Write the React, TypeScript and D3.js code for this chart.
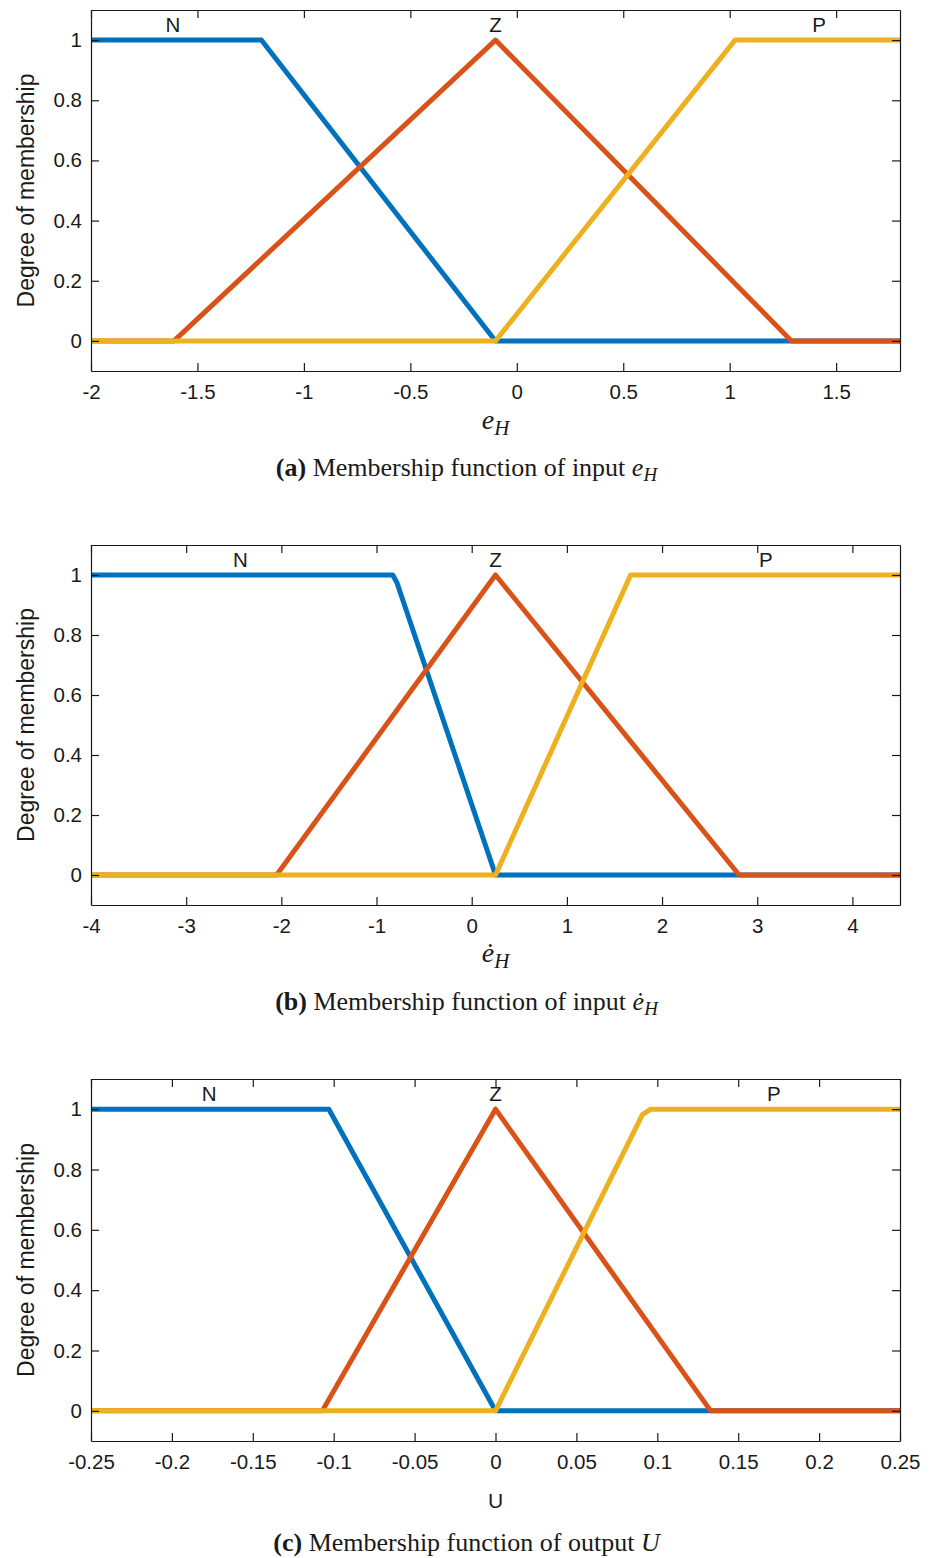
import { useRef, useEffect } from 'react';
import * as d3 from 'd3';

const WIDTH = 936;
const HEIGHT = 1558;
const PLOT_LEFT = 91;
const PLOT_RIGHT = 900;

const COLORS = { N: '#0072BD', Z: '#D95319', P: '#EDB120' };
const Y_TICKS = [0, 0.2, 0.4, 0.6, 0.8, 1];
const MF_NAMES = ['N', 'Z', 'P'];

// (a) input e_H
const X_DOMAIN_A = [-2, 1.8];
const X_TICKS_A = [-2, -1.5, -1, -0.5, 0, 0.5, 1, 1.5];
const MF_A_N = [[-2, 1], [-1.2, 1], [-0.1, 0], [1.8, 0]];
const MF_A_Z = [[-2, 0], [-1.61, 0], [-0.1, 1], [1.29, 0], [1.8, 0]];
const MF_A_P = [[-2, 0], [-0.1, 0], [1.025, 1], [1.8, 1]];
const LABEL_X_A = [-1.615, -0.1, 1.42];

// (b) input e_H dot
const X_DOMAIN_B = [-4, 4.5];
const X_TICKS_B = [-4, -3, -2, -1, 0, 1, 2, 3, 4];
const MF_B_N = [[-4, 1], [-0.83, 1], [-0.785, 0.974], [0.25, 0], [4.5, 0]];
const MF_B_Z = [[-4, 0], [-2.05, 0], [0.25, 1], [2.81, 0], [4.5, 0]];
const MF_B_P = [[-4, 0], [0.25, 0], [1.67, 1], [4.5, 1]];
const LABEL_X_B = [-2.43, 0.25, 3.09];

// (c) output U
const X_DOMAIN_C = [-0.25, 0.25];
const X_TICKS_C = [-0.25, -0.2, -0.15, -0.1, -0.05, 0, 0.05, 0.1, 0.15, 0.2, 0.25];
const MF_C_N = [[-0.25, 1], [-0.103, 1], [0, 0], [0.25, 0]];
const MF_C_Z = [[-0.25, 0], [-0.107, 0], [0, 1], [0.133, 0], [0.25, 0]];
const MF_C_P = [[-0.25, 0], [0, 0], [0.0908, 0.982], [0.096, 1], [0.25, 1]];
const LABEL_X_C = [-0.177, 0, 0.172];

const PANELS = [
  { id: 'a', top: 10, height: 361, domain: X_DOMAIN_A, ticks: X_TICKS_A, mfs: [MF_A_N, MF_A_Z, MF_A_P], labelX: LABEL_X_A, xlabel: 'eH', caption: 'input', capY: 476, xlabY: 429 },
  { id: 'b', top: 545, height: 360, domain: X_DOMAIN_B, ticks: X_TICKS_B, mfs: [MF_B_N, MF_B_Z, MF_B_P], labelX: LABEL_X_B, xlabel: 'edot', caption: 'input', capY: 1010, xlabY: 962 },
  { id: 'c', top: 1079, height: 362, domain: X_DOMAIN_C, ticks: X_TICKS_C, mfs: [MF_C_N, MF_C_Z, MF_C_P], labelX: LABEL_X_C, xlabel: 'U', caption: 'output', capY: 1551, xlabY: 1508 },
];

const SANS = '"Liberation Sans", Arial, sans-serif';
const SERIF = '"Liberation Serif", "Times New Roman", serif';
const INK = '#1a1a1a';
const fmt = (d: number) => String(Math.round(d * 100) / 100);

export default function App() {
  const svgRef = useRef<SVGSVGElement>(null);

  useEffect(() => {
    const svg = d3.select(svgRef.current);
    svg.selectAll('*').remove();

    PANELS.forEach(p => {
      const innerW = PLOT_RIGHT - PLOT_LEFT;
      const innerH = p.height;
      const x = d3.scaleLinear().domain(p.domain).range([0, innerW]);
      const y = d3.scaleLinear().domain([-0.1, 1.1]).range([innerH, 0]);
      const g = svg.append('g').attr('transform', `translate(${PLOT_LEFT},${p.top})`);

      // membership lines
      const line = d3.line<number[]>().x(d => x(d[0])).y(d => y(d[1]));
      p.mfs.forEach((mf, i) => {
        g.append('path').datum(mf)
          .attr('d', line)
          .attr('fill', 'none')
          .attr('stroke', COLORS[MF_NAMES[i]])
          .attr('stroke-width', 5)
          .attr('stroke-linejoin', 'round');
      });

      // axes, MATLAB-style box with inward ticks
      const styleAxis = (sel: any) => {
        sel.selectAll('path, line').attr('stroke', INK).attr('stroke-width', 1.2);
        sel.selectAll('text').attr('font-family', SANS).attr('font-size', 20.5).attr('fill', INK);
      };
      g.append('g').attr('transform', `translate(0,${innerH})`)
        .call(d3.axisBottom(x).tickValues(p.ticks).tickFormat(fmt).tickSizeInner(-8).tickSizeOuter(0).tickPadding(13.5))
        .call(styleAxis);
      g.append('g')
        .call(d3.axisTop(x).tickValues(p.ticks).tickFormat(() => '').tickSizeInner(-8).tickSizeOuter(0))
        .call(styleAxis);
      g.append('g')
        .call(d3.axisLeft(y).tickValues(Y_TICKS).tickFormat(fmt).tickSizeInner(-8).tickSizeOuter(0).tickPadding(9))
        .call(styleAxis);
      g.append('g').attr('transform', `translate(${innerW},0)`)
        .call(d3.axisRight(y).tickValues(Y_TICKS).tickFormat(() => '').tickSizeInner(-8).tickSizeOuter(0))
        .call(styleAxis);

      // MF names
      p.labelX.forEach((lx, i) => {
        g.append('text')
          .attr('x', x(lx)).attr('y', y(1.028))
          .attr('text-anchor', 'middle')
          .attr('font-family', SANS).attr('font-size', 20.5).attr('fill', INK)
          .text(MF_NAMES[i]);
      });

      // y label
      g.append('text')
        .attr('transform', `translate(${34 - PLOT_LEFT},${innerH / 2}) rotate(-90)`)
        .attr('text-anchor', 'middle')
        .attr('font-family', SANS).attr('font-size', 23).attr('fill', INK)
        .text('Degree of membership');

      // x label
      const cx = innerW / 2;
      const xlabY = p.xlabY - p.top;
      if (p.xlabel === 'U') {
        g.append('text').attr('x', cx).attr('y', xlabY)
          .attr('text-anchor', 'middle')
          .attr('font-family', SANS).attr('font-size', 21).attr('fill', INK)
          .text('U');
      } else {
        const t = g.append('text').attr('x', cx).attr('y', xlabY)
          .attr('text-anchor', 'middle')
          .attr('font-family', SERIF).attr('font-style', 'italic').attr('font-size', 28).attr('fill', INK);
        t.append('tspan').text(p.xlabel === 'edot' ? 'ė' : 'e');
        t.append('tspan').attr('dy', 6).attr('font-size', 21).text('H');
      }

      // caption
      const cap = g.append('text').attr('x', cx - 29).attr('y', p.capY - p.top)
        .attr('text-anchor', 'middle')
        .attr('font-family', SERIF).attr('font-size', 26).attr('fill', INK);
      cap.append('tspan').attr('font-weight', 'bold').text(`(${p.id})`);
      cap.append('tspan').text(` Membership function of ${p.caption} `);
      if (p.xlabel === 'U') {
        cap.append('tspan').attr('font-style', 'italic').text('U');
      } else {
        cap.append('tspan').attr('font-style', 'italic').text(p.xlabel === 'edot' ? 'ė' : 'e');
        cap.append('tspan').attr('font-style', 'italic').attr('font-size', 19).attr('dy', 5).text('H');
      }
    });
  }, []);

  return (
    <div style={{ position: 'absolute', left: 0, top: 0, background: '#fff' }}>
      <svg ref={svgRef} width={WIDTH} height={HEIGHT} style={{ display: 'block' }} />
    </div>
  );
}
